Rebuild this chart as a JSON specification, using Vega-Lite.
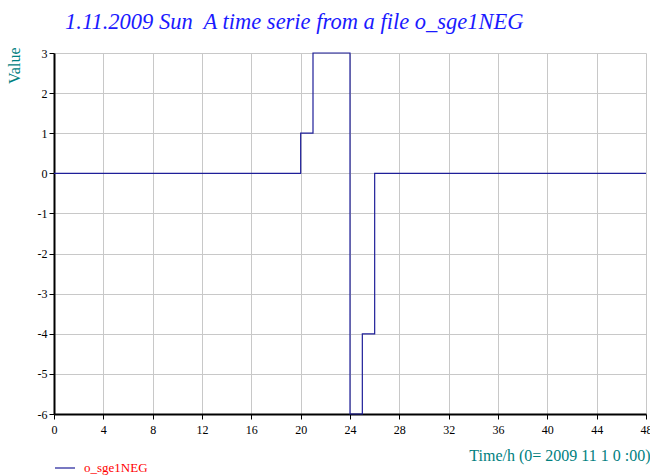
{
  "$schema": "https://vega.github.io/schema/vega-lite/v6.json",
  "autosize": {"type": "none"},
  "width": 592,
  "height": 361,
  "padding": {"left": 54, "top": 53, "right": 4, "bottom": 61},
  "background": "white",
  "title": {
    "text": "1.11.2009 Sun\u00a0 A time serie from a file o_sge1NEG",
    "anchor": "start",
    "frame": "group",
    "dx": 11,
    "offset": -4,
    "baseline": "alphabetic",
    "font": "Liberation Serif, Times New Roman, serif",
    "fontStyle": "italic",
    "fontWeight": "normal",
    "fontSize": 22.5,
    "color": "#1a1aff"
  },
  "config": {
    "view": {"stroke": null},
    "axis": {
      "labelFont": "Liberation Serif, serif",
      "labelFontSize": 11,
      "labelColor": "#000000",
      "titleFont": "Liberation Serif, serif",
      "titleFontWeight": "normal",
      "titleColor": "#008080",
      "gridColor": "#c8c8c8",
      "gridWidth": 1,
      "domainColor": "#000000",
      "domainWidth": 2,
      "tickColor": "#000000",
      "tickSize": 5,
      "tickWidth": 1
    },
    "legend": {
      "labelFont": "Liberation Serif, serif",
      "labelFontSize": 13,
      "labelColor": "#ff0000"
    }
  },
  "data": {
    "values": [
      {"t": 0, "v": 0, "s": "o_sge1NEG"},
      {"t": 20, "v": 1, "s": "o_sge1NEG"},
      {"t": 21, "v": 3, "s": "o_sge1NEG"},
      {"t": 24, "v": -6, "s": "o_sge1NEG"},
      {"t": 25, "v": -4, "s": "o_sge1NEG"},
      {"t": 26, "v": 0, "s": "o_sge1NEG"},
      {"t": 48, "v": 0, "s": "o_sge1NEG"}
    ]
  },
  "mark": {"type": "line", "interpolate": "step-after", "strokeWidth": 1.2},
  "encoding": {
    "x": {
      "field": "t",
      "type": "quantitative",
      "scale": {"domain": [0, 48], "nice": false, "zero": false},
      "axis": {
        "values": [0, 4, 8, 12, 16, 20, 24, 28, 32, 36, 40, 44, 48],
        "labelExpr": "'' + datum.value",
        "labelFont": "Liberation Serif, serif",
        "labelFontSize": 12,
        "title": "Time/h (0= 2009 11 1 0 :00)",
        "titleFont": "Liberation Serif, serif",
        "titleFontSize": 16,
        "titleAnchor": "end",
        "titleAlign": "right",
        "titleBaseline": "alphabetic",
        "titleX": 596,
        "titleY": 46,
        "labelPadding": 5,
        "labelFlush": false,
        "labelOverlap": false
      }
    },
    "y": {
      "field": "v",
      "type": "quantitative",
      "scale": {"domain": [-6, 3], "nice": false, "zero": false},
      "axis": {
        "values": [-6, -5, -4, -3, -2, -1, 0, 1, 2, 3],
        "labelExpr": "'' + datum.value",
        "labelFont": "Liberation Serif, serif",
        "labelFontSize": 12,
        "title": "Value",
        "titleFont": "Liberation Serif, serif",
        "titleFontSize": 16,
        "titleAngle": -90,
        "titleAnchor": "end",
        "titleAlign": "right",
        "titleBaseline": "middle",
        "titleX": -40,
        "titleY": -6,
        "labelPadding": 2,
        "labelFlush": false,
        "labelOverlap": false
      }
    },
    "color": {
      "field": "s",
      "type": "nominal",
      "scale": {"range": ["#1f1f99"]},
      "legend": {
        "title": null,
        "orient": "none",
        "legendX": 0,
        "legendY": 404,
        "padding": 0,
        "symbolType": "stroke",
        "symbolSize": 400,
        "symbolStrokeWidth": 1.2,
        "labelOffset": 8,
        "labelFont": "Liberation Serif, serif",
        "labelFontSize": 13,
        "labelColor": "#ff0000"
      }
    }
  }
}
